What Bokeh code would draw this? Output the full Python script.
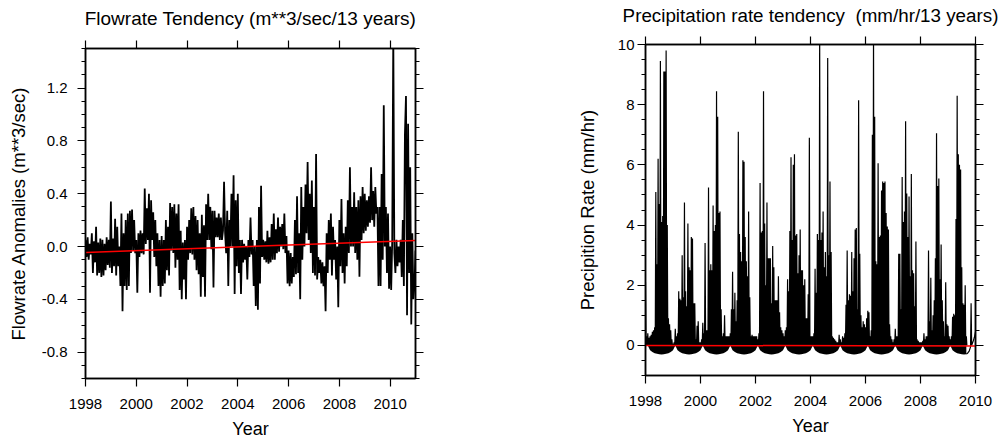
from bokeh.plotting import figure
from bokeh.layouts import row
from bokeh.models import Range1d, LinearAxis, FixedTicker, NumeralTickFormatter
from bokeh.embed import file_html
from bokeh.resources import INLINE

FONT = "Liberation Sans"

# ---------------- data ----------------
year_ticks = [1998, 2000, 2002, 2004, 2006, 2008, 2010]

flow_ticks = [-0.8, -0.4, 0.0, 0.4, 0.8, 1.2]
flow_minor = [-1.0, -0.9, -0.7, -0.6, -0.5, -0.3, -0.2, -0.1, 0.1, 0.2, 0.3,
              0.5, 0.6, 0.7, 0.9, 1.0, 1.1, 1.3, 1.4, 1.5]
precip_ticks = [0, 2, 4, 6, 8, 10]
precip_minor = [-1.0, -0.5, 0.5, 1.0, 1.5, 2.5, 3.0, 3.5, 4.5, 5.0, 5.5, 6.5,
                7.0, 7.5, 8.5, 9.0, 9.5]

# flowrate anomalies, 24 samples per year from 1998.0 (m**3/sec)
flow_start = 1998.0
flow_per_year = 24
flow = [
    0.05, -0.08, 0.07, -0.1, 0.02, -0.06, 0.1, -0.2, 0.04, -0.12, 0.15, -0.22,
    0.03, -0.2, 0.06, -0.23, 0.05, -0.22, 0.02, -0.18, 0.07, -0.14, 0.05, -0.16,
    0.34, -0.2, 0.06, -0.15, 0.21, -0.22, 0.15, -0.15, 0.0, -0.3, 0.25, -0.49,
    0.1, -0.3, 0.2, -0.33, 0.25, -0.3, 0.27, -0.05, 0.28, -0.03, 0.2, -0.05,
    0.05, -0.35, 0.1, -0.08, 0.12, -0.05, 0.1, -0.06, 0.44, 0.02, 0.29, 0.05,
    0.4, -0.35, 0.35, 0.05, 0.26, -0.08, 0.2, -0.15, 0.1, -0.3, 0.05, -0.38,
    0.08, -0.3, 0.05, -0.28, 0.2, -0.18, 0.15, -0.22, 0.33, -0.03, 0.3, -0.05,
    0.32, -0.16, 0.25, -0.1, 0.32, -0.33, 0.12, -0.4, 0.03, -0.25, 0.05, -0.4,
    0.15, -0.1, 0.2, -0.05, 0.29, -0.06, 0.3, -0.1, 0.23, -0.18, 0.2, -0.21,
    0.1, -0.38, 0.24, -0.23, 0.16, -0.38, 0.32, 0.05, 0.4, 0.05, 0.3, -0.02,
    0.27, -0.31, 0.27, 0.07, 0.22, 0.07, 0.25, 0.05, 0.22, 0.05, 0.12, 0.49,
    0.1, -0.05, 0.27, -0.3, 0.2, 0.0, 0.4, 0.0, 0.54, -0.36, 0.35, -0.15,
    0.4, -0.2, 0.05, -0.36, 0.05, -0.12, 0.02, -0.1, 0.0, -0.25, 0.05, -0.08,
    0.22, -0.06, 0.05, -0.3, 0.0, -0.45, 0.05, -0.48, 0.3, -0.28, 0.46, -0.08,
    0.05, -0.1, 0.04, -0.12, 0.12, -0.13, 0.07, -0.12, 0.17, -0.1, 0.25, -0.1,
    0.13, -0.05, 0.22, -0.04, 0.15, 0.0, 0.17, -0.02, 0.25, -0.05, 0.08, -0.28,
    -0.03, -0.3, -0.05, -0.28, -0.08, -0.23, 0.2, -0.21, 0.38, -0.2, 0.1, -0.4,
    0.45, -0.1, 0.3, 0.0, 0.47, 0.1, 0.64, 0.05, 0.4, -0.05, 0.5, -0.2,
    0.3, -0.22, 0.7, -0.25, -0.08, -0.2, -0.1, -0.28, -0.12, -0.3, -0.15, -0.49,
    0.1, -0.2, 0.2, -0.1, 0.25, -0.22, 0.15, -0.1, 0.05, -0.25, 0.0, -0.46,
    0.2, -0.15, 0.36, -0.2, 0.1, -0.28, 0.15, -0.15, 0.35, -0.05, 0.6, 0.0,
    0.3, 0.0, 0.41, -0.05, 0.3, -0.1, 0.35, -0.23, 0.38, 0.05, 0.45, 0.1,
    0.4, 0.12, 0.35, 0.15, 0.38, 0.18, 0.6, 0.2, 0.42, 0.15, 0.45, 0.25,
    0.3, -0.3, 0.3, -0.3, 0.55, -0.1, 1.07, 0.0, 0.3, -0.2, 0.25, -0.32,
    0.0, -0.33, 0.05, 1.6, -0.05, -0.2, 0.05, -0.15, 0.0, -0.12, 0.05, -0.23,
    0.2, -0.3, 0.85, 1.14, -0.52, 0.93, -0.2, 0.6, -0.59, 0.1, -0.4, -0.3,
    -0.03,
]
flow_trend_x = [1998.0, 2011.0]
flow_trend_y = [-0.045, 0.045]

# precipitation rate, 24 samples per year from 1998.0 (mm/hr)
precip_start = 1998.0
precip_per_year = 24
precip = [
    2.1, 0.3, 0.4, 0.25, 0.3, 0.35, 0.45, 0.5, 0.6, 5.1, 2.7, 6.2, 4.7, 9.45, 4.1, 4.3, 9.1, 9.1, 9.8, 4.0, 0.9, 0.7, 0.5, 0.2,
    0.05, 0.1, 0.55, 0.3, 0.4, 1.8, 1.55, 1.5, 3.0, 1.6, 4.75, 1.8, 1.3, 4.05, 2.6, 2.5, 3.6, 3.55, 1.4, 1.4, 0.2, 0.65, 0.8, 0.1,
    0.1, 0.2, 0.75, 0.4, 3.4, 0.5, 0.5, 5.25, 2.5, 2.7, 2.5, 4.65, 3.8, 4.0, 8.45, 7.6, 4.4, 4.45, 1.2, 0.3, 0.4, 1.0, 0.3, 0.3,
    0.3, 0.3, 0.4, 1.2, 2.45, 1.2, 1.75, 0.8, 1.5, 7.1, 3.7, 3.1, 2.8, 6.15, 6.1, 3.6, 2.8, 2.3, 4.45, 1.6, 0.3, 0.35, 0.3, 0.3,
    0.3, 0.3, 0.2, 0.4, 5.4, 3.75, 3.8, 8.45, 4.05, 2.0, 4.75, 2.9, 2.9, 2.9, 1.4, 3.3, 2.6, 1.5, 1.5, 1.5, 2.3, 1.1, 0.6, 0.5,
    0.4, 0.3, 0.5, 0.6, 2.2, 1.8, 3.8, 6.25, 3.5, 6.0, 6.35, 3.65, 3.7, 2.4, 3.0, 3.85, 2.5, 2.5, 2.0, 2.2, 0.9, 0.9, 1.7, 6.9,
    0.3, 0.3, 0.3, 0.4, 2.55, 1.75, 3.7, 3.5, 10.4, 3.5, 3.75, 4.45, 2.6, 3.1, 2.3, 9.55, 3.0, 5.45, 3.1, 0.3, 0.25, 0.2, 0.15, 0.1,
    0.1, 0.35, 0.2, 0.1, 0.3, 0.25, 0.4, 1.35, 3.15, 1.5, 1.7, 1.65, 3.1, 1.8, 2.9, 3.85, 3.9, 1.2, 8.15, 3.05, 1.0, 0.6, 0.8, 0.7,
    0.6, 0.9, 1.15, 1.1, 0.3, 0.5, 7.0, 10.4, 7.6, 2.8, 2.7, 6.05, 3.6, 3.65, 5.15, 5.45, 5.4, 5.45, 4.4, 3.95, 3.85, 0.7, 0.3, 0.2,
    0.1, 0.2, 0.55, 0.3, 0.3, 3.05, 3.05, 1.2, 5.6, 4.1, 4.45, 7.45, 5.05, 3.6, 4.95, 2.3, 5.7, 2.5, 2.4, 1.3, 3.45, 0.2, 0.15, 0.1,
    0.1, 0.1, 0.15, 0.4, 0.2, 0.3, 0.3, 3.15, 0.8, 2.25, 0.5, 1.0, 1.5, 2.9, 7.05, 5.3, 5.55, 2.2, 3.35, 1.5, 0.8, 0.3, 2.1, 0.7,
    0.65, 0.3, 0.2, 0.3, 0.95, 1.05, 1.0, 4.2, 8.3, 6.35, 6.0, 5.85, 2.6, 1.4, 1.35, 2.0, 0.3,
]
# seasonal negative lobes, monthly from 1998.0
lobe_per_year = 12
precip_lobe = [
    0.0, 0.0, -0.16, -0.22, -0.26, -0.28, -0.29, -0.3, -0.29, -0.28, -0.26, -0.22,
    -0.16, 0.0, -0.16, -0.22, -0.26, -0.28, -0.29, -0.3, -0.29, -0.28, -0.26, -0.22,
    -0.16, 0.0, -0.16, -0.22, -0.26, -0.28, -0.29, -0.3, -0.29, -0.28, -0.26, -0.22,
    -0.16, 0.0, -0.16, -0.22, -0.26, -0.28, -0.29, -0.3, -0.29, -0.28, -0.26, -0.22,
    -0.16, 0.0, -0.16, -0.22, -0.26, -0.28, -0.29, -0.3, -0.29, -0.28, -0.26, -0.22,
    -0.16, 0.0, -0.16, -0.22, -0.26, -0.28, -0.29, -0.3, -0.29, -0.28, -0.26, -0.22,
    -0.16, 0.0, -0.16, -0.22, -0.26, -0.28, -0.29, -0.3, -0.29, -0.28, -0.26, -0.22,
    -0.16, 0.0, -0.16, -0.22, -0.26, -0.28, -0.29, -0.3, -0.29, -0.28, -0.26, -0.22,
    -0.16, 0.0, -0.16, -0.22, -0.26, -0.28, -0.29, -0.3, -0.29, -0.28, -0.26, -0.22,
    -0.16, 0.0, -0.16, -0.22, -0.26, -0.28, -0.29, -0.3, -0.29, -0.28, -0.26, -0.22,
    -0.16, 0.0, -0.16, -0.22, -0.26, -0.28, -0.29, -0.3, -0.29, -0.28, -0.26, -0.22,
    -0.16, 0.0, -0.16, -0.22, -0.26, -0.28, -0.29, -0.3, -0.29,
]
precip_tail_t = [2009.667, 2009.72, 2009.77, 2009.82, 2009.84, 2009.86, 2009.92, 2009.96, 2010.0]
precip_tail = [-0.29, -0.25, -0.19, -0.05, 1.4, 0.0, 0.15, 0.27, 0.45]
precip_trend_x = [1998.0, 2010.0]
precip_trend_y = [0.0, -0.02]


# ---------------- helpers ----------------
def base_axis_style(ax, minor=True):
    ax.axis_line_width = 1.5
    ax.axis_line_color = "black"
    ax.major_tick_in = 0
    ax.major_tick_out = 8
    ax.minor_tick_in = 0
    ax.minor_tick_out = 4
    ax.major_tick_line_width = 1.2
    ax.minor_tick_line_width = 1.2
    ax.major_tick_line_color = "black"
    ax.minor_tick_line_color = "black" if minor else None
    ax.major_label_text_font = FONT
    ax.major_label_text_font_size = "15px"
    ax.major_label_text_color = "black"
    ax.axis_label_text_font = FONT
    ax.axis_label_text_font_size = "18px"
    ax.axis_label_text_font_style = "normal"
    ax.axis_label_text_color = "black"


def make_fig(title, title_size, title_standoff, xr, yr, yticks, yminor, ylabel,
             fw, fh, bl, br, bt, bb, ytick_standoff, ylabel_standoff, yfmt):
    p = figure(frame_width=fw, frame_height=fh, x_range=Range1d(*xr),
               y_range=Range1d(*yr), output_backend="svg",
               toolbar_location=None, min_border_left=bl, min_border_right=br,
               min_border_top=bt, min_border_bottom=bb)
    p.xgrid.visible = False
    p.ygrid.visible = False
    p.outline_line_color = "black"
    p.outline_line_width = 1.5
    p.background_fill_color = "white"
    p.border_fill_color = "white"

    xt = FixedTicker(ticks=year_ticks, minor_ticks=[])
    yt = FixedTicker(ticks=yticks, minor_ticks=yminor)

    bx = p.below[0]
    ly = p.left[0]
    base_axis_style(bx, minor=False)
    base_axis_style(ly)
    ly.axis_label_text_font_size = "18.5px"
    bx.ticker = xt
    ly.ticker = yt
    bx.axis_label = "Year"
    ly.axis_label = ylabel
    bx.major_label_standoff = 12
    bx.axis_label_standoff = 7
    ly.major_label_standoff = ytick_standoff
    ly.axis_label_standoff = ylabel_standoff
    if yfmt:
        ly.formatter = NumeralTickFormatter(format=yfmt)

    # top axis: ticks only; its axis label carries the plot title
    top = LinearAxis(ticker=FixedTicker(ticks=year_ticks, minor_ticks=[]))
    right = LinearAxis(ticker=FixedTicker(ticks=yticks, minor_ticks=yminor))
    for ax, mn in ((top, False), (right, True)):
        base_axis_style(ax, minor=mn)
        ax.major_label_text_font_size = "1px"
        ax.major_label_text_color = None
        ax.major_label_text_alpha = 0
        ax.major_label_standoff = 0
    top.axis_label = title
    top.axis_label_text_font_size = title_size
    top.axis_label_standoff = title_standoff
    p.add_layout(top, "above")
    p.add_layout(right, "right")
    return p


# ---------------- left: flowrate ----------------
p1 = make_fig("Flowrate Tendency (m**3/sec/13 years)", "19px", 12,
              (1998.0, 2011.0), (-1.0, 1.5), flow_ticks, flow_minor,
              "Flowrate Anomalies (m**3/sec)", 330, 330,
              85, 145, 48, 61, 10, 10, "0.0")
flow_t = [flow_start + k / flow_per_year for k in range(len(flow))]
p1.line(flow_t, flow, line_color="black", line_width=1.8)
p1.line(flow_trend_x, flow_trend_y, line_color="#ff0000", line_width=1.5)

# ---------------- right: precipitation ----------------
p2 = make_fig("Precipitation rate tendency \u00a0(mm/hr/13 years)", "18.8px", 11,
              (1998.0, 2010.0), (-1.0, 10.0), precip_ticks, precip_minor,
              "Precipition Rate (mm/hr)", 330, 331,
              85, 25, 48, 61, 3, 17, None)
p2.margin = (-4, 0, 0, 0)
lobe_t = [precip_start + m / lobe_per_year for m in range(len(precip_lobe))]
p2.varea(x=lobe_t, y1=precip_lobe, y2=[0.0] * len(precip_lobe),
         fill_color="black")
zx, zy = [], []
half = 0.5 / precip_per_year
for k, v in enumerate(precip):
    t = precip_start + k / precip_per_year
    zx += [t, t + half]
    zy += [v, 0.0]
p2.line(zx, zy, line_color="black", line_width=1.2)
p2.line(precip_tail_t, precip_tail, line_color="black", line_width=1.2)
p2.line(precip_trend_x, precip_trend_y, line_color="#ff0000", line_width=1.5)

layout = row(p1, p2)
open("out.html", "w").write(file_html(layout, INLINE))
